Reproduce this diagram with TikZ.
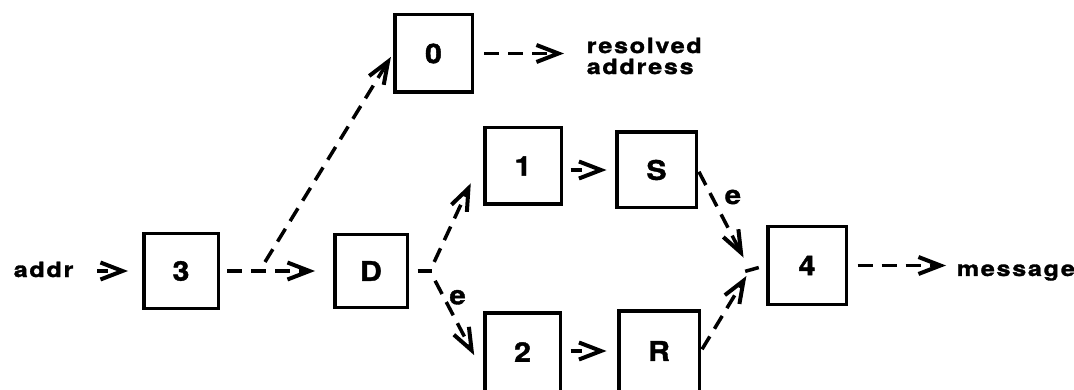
\documentclass[tikz,border=0pt]{standalone}
\usepackage{fontspec}
\setmainfont{TeX Gyre Heros}
\newfontfamily\lblfont{TeX Gyre Heros}[LetterSpace=8,FakeStretch=1.2,FakeBold=1.5]
\newfontfamily\boxfont{TeX Gyre Heros}[FakeStretch=1.12,FakeBold=1.5]
\usetikzlibrary{arrows.meta}
\begin{document}
\begin{tikzpicture}[x=1pt,y=-1pt,line width=3.5pt,
  box/.style={draw,line width=3.5pt,inner sep=0pt,font=\boxfont\bfseries\fontsize{27}{27}\selectfont},
  txt/.style={inner sep=0pt,align=left,font=\lblfont\bfseries\fontsize{21}{21}\selectfont},
  elbl/.style={inner sep=0pt,anchor=west,font=\boxfont\bfseries\fontsize{26}{26}\selectfont},
  tip/.style={-{Straight Barb[length=22pt,width=17pt,line width=4pt]}},
  dsh/.style={tip,dash pattern=on 15pt off 9pt},
  shortarr/.style={tip,dash pattern=on 11pt off 60pt}]
\useasboundingbox (0,0) rectangle (1074,390);
% boxes
\node[box,minimum width=77.5pt,minimum height=77.5pt] (b0) at (433.5,53.5) {0};
\node[box,minimum width=74.5pt,minimum height=74.5pt] (b3) at (181,271) {3};
\node[box,minimum width=72.5pt,minimum height=72.5pt] (bD) at (371,271) {D};
\node[box,minimum width=76.5pt,minimum height=76.5pt] (b1) at (523,166) {1};
\node[box,minimum width=79.5pt,minimum height=75.5pt] (bS) at (656.5,170) {S};
\node[box,minimum width=78.5pt,minimum height=77.5pt] (b4) at (807,265.5) {4};
\node[box,minimum width=75.5pt,minimum height=78.5pt] (b2) at (522.5,352) {2};
\node[box,minimum width=80.5pt,minimum height=80.5pt] (bR) at (659,351) {R};
% texts
\node[txt,anchor=base west] (addr) at (12,277) {addr};
\node[txt,anchor=west] (res) at (585,56) {resolved\\address};
\node[txt,anchor=base west] (msg) at (955,276) {message};
% junctions
\coordinate (j1) at (265,262);
\coordinate (jD) at (430,271);
\coordinate (j4) at (750,270);
% connectors
\draw[shortarr,shorten <=22pt,shorten >=14pt] (addr.east |- b3.west) -- (b3.west);
\draw[dsh,shorten <=7pt,shorten >=18pt] (b3.east) -- (bD.west);
\draw[dsh,shorten >=4pt] (j1) -- (b0.west);
\draw[dsh,shorten <=10pt,shorten >=21pt] (b0.east) -- (b0.east -| res.west);
\draw[shorten <=8.5pt,shorten >=-2pt] (bD.east) -- (jD);
\draw[dsh,shorten <=10pt,shorten >=29pt] (jD) -- ([yshift=9pt]b1.west);
\draw[dsh,shorten <=11pt,shorten >=19pt] (jD) -- ([yshift=-20pt]b2.west)
  node[elbl,pos=0.26,xshift=4pt] {e};
\draw[shortarr,shorten <=7.5pt,shorten >=8.5pt] (b1.east |- bS.west) -- (bS.west);
\draw[shortarr,shorten <=8.5pt,shorten >=10.5pt] (b2.east |- bR.west) -- (bR.west);
\draw[dsh,shorten <=2pt,shorten >=14pt] (bS.east) -- (j4)
  node[elbl,pos=0.27,xshift=11pt] {e};
\draw[dsh,shorten <=2pt,shorten >=7pt] (bR.east) -- (j4);
\draw[shorten <=-5pt,shorten >=7.5pt] (j4) -- (b4.west);
\draw[dsh,shorten <=9.5pt,shorten >=9pt] (b4.east) -- (b4.east -| msg.west);
\end{tikzpicture}
\end{document}
